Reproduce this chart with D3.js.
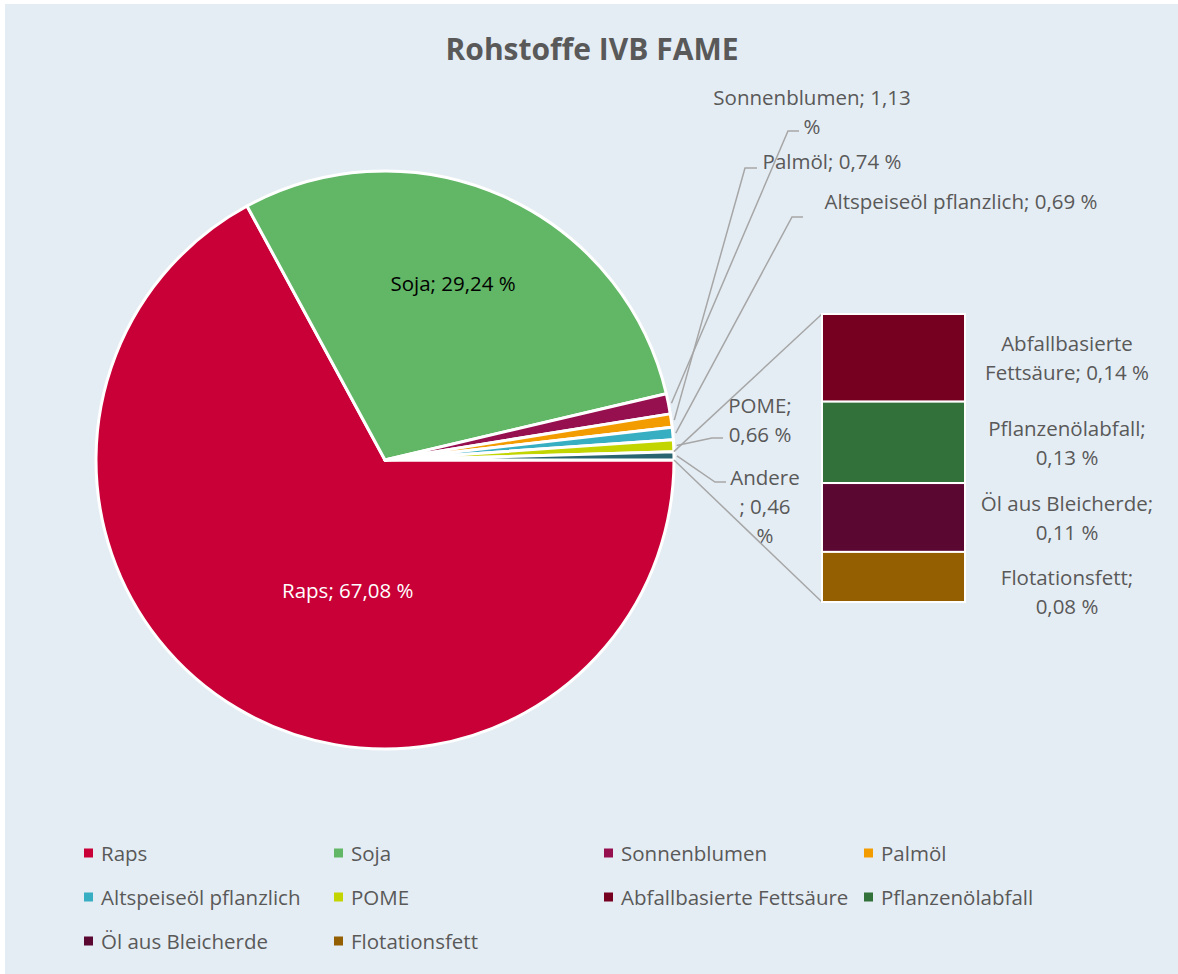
<!DOCTYPE html>
<html>
<head>
<meta charset="utf-8">
<script src="https://cdn.jsdelivr.net/npm/d3@7"></script>
<style>
  body { margin: 0; background: #ffffff; }
  text { font-family: "Open Sans", sans-serif; }
</style>
</head>
<body>
<svg id="chart" width="1178" height="974"></svg>
<script>
// data
const pieCategories = ["Raps", "Soja", "Sonnenblumen", "Palmöl", "Altspeiseöl pflanzlich", "POME", "Andere"];
const pieValues = [67.08, 29.24, 1.13, 0.74, 0.69, 0.66, 0.46];
const barCategories = ["Abfallbasierte Fettsäure", "Pflanzenölabfall", "Öl aus Bleicherde", "Flotationsfett"];
const barValues = [0.14, 0.13, 0.11, 0.08];
const legendCategories = ["Raps", "Soja", "Sonnenblumen", "Palmöl", "Altspeiseöl pflanzlich", "POME",
                          "Abfallbasierte Fettsäure", "Pflanzenölabfall", "Öl aus Bleicherde", "Flotationsfett"];

const colors = {
    "Raps": "#c90037", "Soja": "#62b767", "Sonnenblumen": "#961050", "Palmöl": "#f39c00",
    "Altspeiseöl pflanzlich": "#38aec3", "POME": "#c3d500", "Andere": "#2a6470",
    "Abfallbasierte Fettsäure": "#760020", "Pflanzenölabfall": "#33713a",
    "Öl aus Bleicherde": "#5a0731", "Flotationsfett": "#935f00"
};

const de = d3.formatLocale({decimal: ",", thousands: ".", grouping: [3], currency: ["", " €"]});
const fmt = de.format(".2f");

const svg = d3.select("#chart");
const textColor = "#595959";
const lineColor = "#a6a6a6";
const fontSize = 20.5;

// background
svg.append("rect").attr("x", 5).attr("y", 4).attr("width", 1173).attr("height", 970).attr("fill", "#e5edf4");

svg.append("text")
    .text("Rohstoffe IVB FAME")
    .attr("x", 592).attr("y", 48)
    .attr("text-anchor", "middle").attr("dominant-baseline", "central")
    .style("font-size", "30px").style("font-weight", "bold").attr("fill", textColor);

// pie
const cx = 385, cy = 460, r = 289;
const g = svg.append("g").attr("transform", `translate(${cx},${cy})`);

const pie = d3.pie().sort(null).value(d => d.value)
    .startAngle(Math.PI / 2).endAngle(Math.PI / 2 + 2 * Math.PI);
const arcs = pie(pieCategories.map((c, i) => ({name: c, value: pieValues[i]})));
const arc = d3.arc().innerRadius(0).outerRadius(r);

g.selectAll("path.slice")
    .data(arcs)
    .join("path")
    .attr("class", "slice")
    .attr("d", arc)
    .attr("fill", d => colors[d.data.name])
    .attr("stroke", "#ffffff")
    .attr("stroke-width", 3)
    .attr("stroke-linejoin", "round");

// inside labels
const insideLabels = {
    "Raps": {angle: 196 * Math.PI / 180, dist: 135, color: "#ffffff"},
    "Soja": {angle: 21 * Math.PI / 180, dist: 190, color: "#000000"}
};
arcs.filter(d => insideLabels[d.data.name]).forEach(d => {
    const L = insideLabels[d.data.name];
    g.append("text")
        .text(`${d.data.name}; ${fmt(d.data.value)} %`)
        .attr("x", Math.sin(L.angle) * L.dist)
        .attr("y", -Math.cos(L.angle) * L.dist)
        .attr("text-anchor", "middle").attr("dominant-baseline", "central")
        .style("font-size", fontSize + "px").attr("fill", L.color);
});

// outside labels with leader lines
const lineH = 29;
const outsideLabels = {
    "Sonnenblumen": {x: 812, y: 97, elbow: [788, 131], end: [799, 131], lines: (n, v) => [`${n}; ${v}`, "%"]},
    "Palmöl": {x: 832, y: 161, elbow: [745, 168], end: [757, 168], lines: (n, v) => [`${n}; ${v} %`]},
    "Altspeiseöl pflanzlich": {x: 961, y: 201, elbow: [792, 217], end: [803, 217], lines: (n, v) => [`${n}; ${v} %`]},
    "POME": {x: 760, y: 405, elbow: [712, 438], end: [723, 438], lines: (n, v) => [`${n};`, `${v} %`]},
    "Andere": {x: 765, y: 477, elbow: [715, 482], end: [726, 482], lines: (n, v) => [n, `; ${v}`, "%"]}
};
arcs.filter(d => outsideLabels[d.data.name]).forEach(d => {
    const L = outsideLabels[d.data.name];
    const mid = (d.startAngle + d.endAngle) / 2;
    const sx = cx + Math.sin(mid) * (r + 3), sy = cy - Math.cos(mid) * (r + 3);
    svg.append("path")
        .attr("d", d3.line()([[sx, sy], L.elbow, L.end]))
        .attr("fill", "none").attr("stroke", lineColor).attr("stroke-width", 1.5);
    L.lines(d.data.name, fmt(d.data.value)).forEach((t, i) => {
        svg.append("text").text(t)
            .attr("x", L.x).attr("y", L.y + i * lineH)
            .attr("text-anchor", "middle").attr("dominant-baseline", "central")
            .style("font-size", fontSize + "px").attr("fill", textColor);
    });
});

// bar of pie
const barX = 822, barW = 143;
const barTop = 314, barBottom = 602;
const yBar = d3.scaleLinear().domain([0, d3.sum(barValues)]).range([barTop, barBottom]);
let acc = 0;
const barData = barCategories.map((c, i) => {
    const d = {name: c, value: barValues[i], y0: acc, y1: acc + barValues[i]};
    acc += barValues[i];
    return d;
});

// series lines from the "Andere" slice to the bar
const other = arcs.find(d => d.data.name === "Andere");
const p0 = [cx + Math.sin(other.startAngle) * r, cy - Math.cos(other.startAngle) * r];
const p1 = [cx + Math.sin(other.endAngle) * r, cy - Math.cos(other.endAngle) * r];
svg.append("line").attr("x1", p0[0]).attr("y1", p0[1]).attr("x2", barX).attr("y2", yBar(0))
    .attr("stroke", lineColor).attr("stroke-width", 1.5);
svg.append("line").attr("x1", p1[0]).attr("y1", p1[1]).attr("x2", barX).attr("y2", yBar(d3.sum(barValues)))
    .attr("stroke", lineColor).attr("stroke-width", 1.5);

svg.selectAll("rect.bar")
    .data(barData)
    .join("rect")
    .attr("class", "bar")
    .attr("x", barX)
    .attr("y", d => yBar(d.y0))
    .attr("width", barW)
    .attr("height", d => yBar(d.y1) - yBar(d.y0))
    .attr("fill", d => colors[d.name])
    .attr("stroke", "#ffffff")
    .attr("stroke-width", 2);

const barLabelLines = {
    "Abfallbasierte Fettsäure": (n, v) => { const w = n.split(" "); return [w[0], `${w.slice(1).join(" ")}; ${v} %`]; },
    "Pflanzenölabfall": (n, v) => [`${n};`, `${v} %`],
    "Öl aus Bleicherde": (n, v) => [`${n};`, `${v} %`],
    "Flotationsfett": (n, v) => [`${n};`, `${v} %`]
};
const barLabelShift = {"Flotationsfett": 15};
barData.forEach(d => {
    const mid = (yBar(d.y0) + yBar(d.y1)) / 2 + (barLabelShift[d.name] || 0);
    const lines = barLabelLines[d.name](d.name, fmt(d.value));
    lines.forEach((t, i) => {
        svg.append("text").text(t)
            .attr("x", 1067).attr("y", mid + (i - (lines.length - 1) / 2) * lineH)
            .attr("text-anchor", "middle").attr("dominant-baseline", "central")
            .style("font-size", fontSize + "px").attr("fill", textColor);
    });
});

// legend
const legendCols = [84, 334, 604, 864];
const legendRows = [853, 897, 941];
const legend = svg.selectAll("g.legend")
    .data(legendCategories)
    .join("g")
    .attr("class", "legend")
    .attr("transform", (d, i) => `translate(${legendCols[i % 4]},${legendRows[Math.floor(i / 4)]})`);
legend.append("rect")
    .attr("x", 0).attr("y", -4.5).attr("width", 9).attr("height", 9)
    .attr("fill", d => colors[d]);
legend.append("text")
    .text(d => d)
    .attr("x", 17).attr("y", 0)
    .attr("dominant-baseline", "central")
    .style("font-size", fontSize + "px").attr("fill", textColor);
</script>
</body>
</html>
